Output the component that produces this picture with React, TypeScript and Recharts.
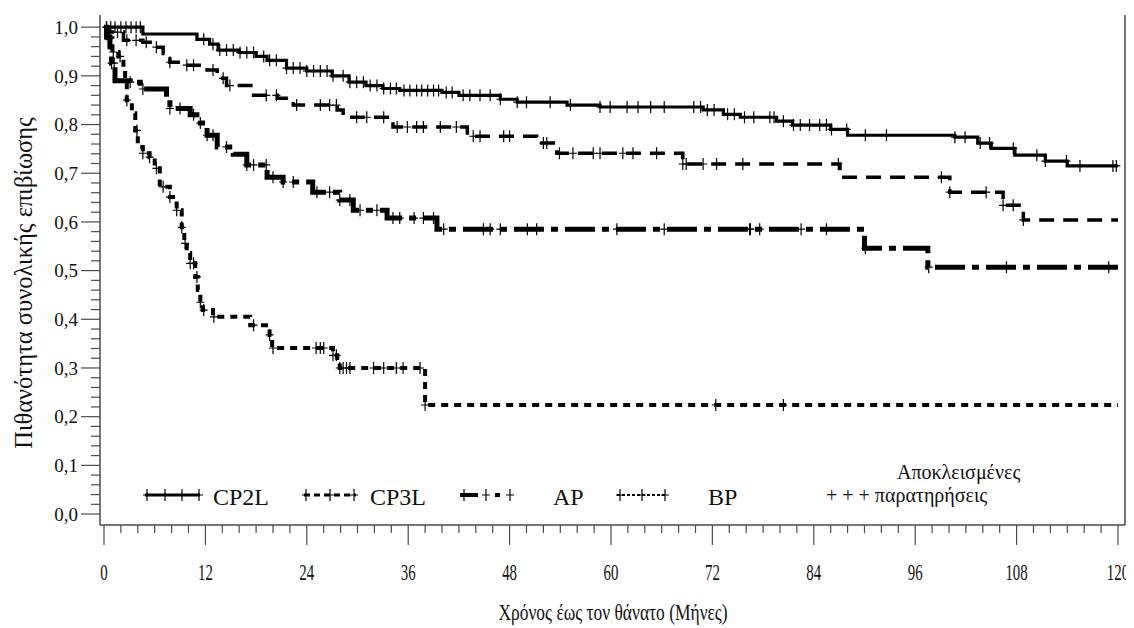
import React from 'react';
import { ComposedChart, Line, Scatter, XAxis, YAxis, ReferenceLine } from 'recharts';

// ---- data: step times (months) and survival values ----
const cp2lT = [0, 4.6, 11, 12.5, 13.5, 16, 18, 19.3, 21.6, 24, 27, 29, 31, 33, 35, 40, 42, 46.9, 48.9, 54.8, 58.7, 70.9, 73.3, 75.3, 79.6, 81.5, 86, 88, 100.7, 103.4, 105, 107.8, 111.4, 114, 120];
const cp2lS = [1, 0.986, 0.975, 0.965, 0.953, 0.948, 0.94, 0.932, 0.916, 0.91, 0.9, 0.887, 0.88, 0.874, 0.87, 0.866, 0.86, 0.852, 0.846, 0.84, 0.836, 0.83, 0.821, 0.815, 0.807, 0.799, 0.79, 0.778, 0.774, 0.762, 0.751, 0.737, 0.725, 0.715, 0.715];
const cp2lCens = [0.3, 0.8, 1.3, 2, 2.6, 3.2, 3.8, 4.3, 11.8, 12.9, 13.7, 14.5, 15.3, 16.1, 16.9, 17.7, 18.9, 19.6, 20.4, 21.6, 22.4, 23.2, 24, 24.8, 25.6, 26.4, 27.1, 28.3, 29.1, 29.9, 30.7, 31.5, 32.3, 33.1, 33.9, 34.6, 35.5, 36.2, 37, 37.6, 38.3, 39, 39.6, 40.5, 41.2, 42.5, 43.3, 44.5, 45.7, 46.9, 48.9, 50, 52.8, 55.2, 58.7, 59.9, 61.9, 63.2, 64.7, 66.3, 69.8, 70.6, 71.4, 72.2, 73.8, 74.6, 75.8, 76.9, 78.8, 79.3, 80.4, 81.6, 82.4, 83.5, 84.7, 85.5, 86.1, 87.9, 90.1, 92.6, 100.7, 101.9, 103.7, 104.8, 107.6, 110.4, 111.4, 113.9, 115.5, 119.4, 119.8];

const bpT = [0, 0.5, 2.3, 4.6, 5.8, 7, 7.8, 9, 12.2, 13.4, 14.5, 17.7, 20.5, 22.4, 27.6, 28.3, 34.2, 43, 51.2, 53.6, 68.5, 87.1, 100.1, 106.4, 108.8, 120];
const bpS = [1, 0.99, 0.973, 0.969, 0.959, 0.946, 0.928, 0.922, 0.912, 0.895, 0.88, 0.86, 0.854, 0.84, 0.83, 0.815, 0.795, 0.776, 0.762, 0.741, 0.719, 0.692, 0.661, 0.634, 0.604, 0.604];
const bpCens = [0.7, 1.6, 2.7, 3.8, 5, 6.2, 7.8, 9.8, 10.6, 12.9, 14.1, 14.9, 19.2, 20.4, 22.8, 25.6, 26.7, 27.5, 29.9, 31.1, 33.1, 34.7, 35.9, 37, 37.8, 39.8, 41.7, 43.7, 44.5, 47.3, 48, 52, 52.4, 53.9, 55.5, 57.9, 58.7, 61.4, 62.6, 65.4, 68.5, 68.9, 70.9, 72.5, 75.6, 86.9, 99.1, 100.1, 104.4, 106.4, 107.6, 108.8];

const apT = [0, 0.3, 0.7, 0.9, 1.3, 3.1, 4.3, 7.4, 7.8, 10.2, 11.4, 12.2, 13.4, 15.3, 16.9, 19.3, 21.2, 24.7, 27.9, 29.5, 33.5, 39.4, 90, 97.5, 120];
const apS = [1, 0.98, 0.96, 0.926, 0.89, 0.887, 0.873, 0.85, 0.833, 0.82, 0.803, 0.778, 0.754, 0.739, 0.717, 0.692, 0.682, 0.661, 0.645, 0.624, 0.608, 0.585, 0.546, 0.507, 0.507];
const apCens = [0.9, 1.2, 3.1, 4.6, 7.8, 9, 10.6, 11.4, 12.2, 12.9, 14.5, 16.9, 17.7, 19.2, 20, 21.2, 22.4, 25.2, 26.7, 27.9, 29.1, 30.3, 32.3, 34.2, 35, 36.7, 37.8, 39, 40.2, 44.9, 45.7, 46.9, 50.1, 51.2, 60.7, 66.3, 76.4, 76.5, 77.6, 82.5, 85.5, 90.1, 97.6, 106.8, 118.9];

const cp3lT = [0, 0.4, 1, 1.7, 2.3, 2.5, 2.7, 3.3, 3.7, 4, 4.6, 5.4, 6, 6.6, 7.8, 8.6, 9.2, 9.5, 9.8, 10.2, 10.8, 11.1, 11.4, 11.7, 12.9, 17.3, 19.6, 19.9, 27.1, 27.6, 27.9, 38, 120];
const cp3lS = [1, 0.977, 0.949, 0.94, 0.918, 0.885, 0.85, 0.823, 0.788, 0.754, 0.741, 0.733, 0.71, 0.672, 0.651, 0.624, 0.589, 0.556, 0.536, 0.515, 0.487, 0.46, 0.435, 0.419, 0.405, 0.388, 0.368, 0.341, 0.326, 0.31, 0.3, 0.224, 0.224];
const cp3lCens = [0.3, 1.1, 1.9, 2.7, 3.9, 4.6, 5.4, 6.2, 7, 7.8, 8.6, 9.2, 9.6, 10.2, 10.6, 11, 11.4, 11.8, 13, 17.7, 19.6, 20, 25.1, 25.6, 26, 27.1, 27.5, 27.9, 28.3, 28.7, 29.1, 31.9, 33.1, 34.6, 35.4, 37.4, 38, 72.4, 80.4];

const xTickLabels = [0, 12, 24, 36, 48, 60, 72, 84, 96, 108, 120];
const yTickLabels = [0, 0.1, 0.2, 0.3, 0.4, 0.5, 0.6, 0.7, 0.8, 0.9, 1.0];

// ---- tables built from the arrays ----
const toSteps = (T: number[], S: number[]) => T.map((t, i) => ({ t, s: S[i] }));
const stepAt = (T: number[], S: number[], t: number) => {
  let v = S[0];
  for (let i = 0; i < T.length; i++) if (T[i] <= t) v = S[i];
  return v;
};
const toCens = (C: number[], T: number[], S: number[]) => C.map((t) => ({ t, s: stepAt(T, S, t) }));

const cp2lData = toSteps(cp2lT, cp2lS);
const bpData = toSteps(bpT, bpS);
const apData = toSteps(apT, apS);
const cp3lData = toSteps(cp3lT, cp3lS);

const xTicks = Array.from({ length: 61 }, (_, i) => i * 2);
const yTicks = Array.from({ length: 51 }, (_, i) => i / 50);

const X_MIN = -0.473;
const X_MAX = 120.83;
const FONT = 'Liberation Serif';
const AXIS = '#4a4a4a';
const TXT = '#111';

const Plus = (props: any) => {
  const { cx, cy } = props;
  if (cx == null || cy == null) return null;
  return <path d={`M${cx - 4},${cy}h8M${cx},${cy - 6}v12`} stroke="#000" strokeWidth={1.2} fill="none" />;
};

const XTick = (props: any) => {
  const { x, y, payload } = props;
  const v = payload.value as number;
  const major = xTickLabels.includes(v);
  return (
    <g>
      <line x1={x} x2={x} y1={y} y2={y + (major ? 20 : 8)} stroke={AXIS} strokeWidth={1.2} />
      {major && (
        <g transform={`translate(${x},${y + 55}) scale(0.62,1)`}>
          <text x={0} y={0} textAnchor="middle" fontFamily={FONT} fontSize={24} fill={TXT}>{v}</text>
        </g>
      )}
    </g>
  );
};

const YTick = (props: any) => {
  const { x, y, payload } = props;
  const v = payload.value as number;
  const major = yTickLabels.some((l) => Math.abs(l - v) < 1e-6);
  return (
    <g>
      <line x1={x - (major ? 19 : 9)} x2={x} y1={y} y2={y} stroke={AXIS} strokeWidth={1.2} />
      {major && (
        <text x={x - 22} y={y} dy="0.35em" textAnchor="end" fontFamily={FONT} fontSize={19} fill={TXT}>
          {v.toFixed(1).replace('.', ',')}
        </text>
      )}
    </g>
  );
};

const Mark = ({ x, y }: { x: number; y: number }) => (
  <path d={`M${x - 4},${y}h8M${x},${y - 6}v12`} stroke="#000" strokeWidth={1.2} fill="none" />
);

export default function App() {
  const W = 1126;
  const H = 620;
  const ly = 487;
  return (
    <div style={{ position: 'relative', width: W, height: H }}>
      <ComposedChart width={W} height={H} margin={{ top: 7, right: 9, left: 0, bottom: 0 }}>
        <XAxis
          type="number"
          dataKey="t"
          domain={[X_MIN, X_MAX]}
          ticks={xTicks}
          interval={0}
          tick={<XTick />}
          tickLine={false}
          tickSize={0}
          tickMargin={0}
          height={103}
          axisLine={{ stroke: AXIS, strokeWidth: 1.5 }}
          allowDataOverflow
        />
        <YAxis
          type="number"
          domain={[-0.0225, 1.025]}
          ticks={yTicks}
          interval={0}
          tick={<YTick />}
          tickLine={false}
          tickSize={0}
          tickMargin={0}
          width={92}
          axisLine={{ stroke: AXIS, strokeWidth: 1.5 }}
          allowDataOverflow
        />
        <ReferenceLine x={X_MAX} stroke={AXIS} strokeWidth={1.5} ifOverflow="extendDomain" />
        <Line data={cp2lData} dataKey="s" type="stepAfter" stroke="#000" strokeWidth={3.2} dot={false} isAnimationActive={false} />
        <Line data={bpData} dataKey="s" type="stepAfter" stroke="#000" strokeWidth={3.5} strokeDasharray="15 9" dot={false} isAnimationActive={false} />
        <Line data={apData} dataKey="s" type="stepAfter" stroke="#000" strokeWidth={5} strokeDasharray="30 7 7 7" dot={false} isAnimationActive={false} />
        <Line data={cp3lData} dataKey="s" type="stepAfter" stroke="#000" strokeWidth={4} strokeDasharray="7 6" dot={false} isAnimationActive={false} />
        <Scatter data={toCens(cp2lCens, cp2lT, cp2lS)} dataKey="s" shape={<Plus />} isAnimationActive={false} />
        <Scatter data={toCens(bpCens, bpT, bpS)} dataKey="s" shape={<Plus />} isAnimationActive={false} />
        <Scatter data={toCens(apCens, apT, apS)} dataKey="s" shape={<Plus />} isAnimationActive={false} />
        <Scatter data={toCens(cp3lCens, cp3lT, cp3lS)} dataKey="s" shape={<Plus />} isAnimationActive={false} />
      </ComposedChart>
      <svg width={W} height={H} style={{ position: 'absolute', left: 0, top: 0, pointerEvents: 'none' }}>
        <text transform={`translate(24,275) rotate(-90)`} textAnchor="middle" fontFamily={FONT} fontSize={24.5} fill={TXT}>
          Πιθανότητα συνολικής επιβίωσης
        </text>
        <g transform="translate(605,612) scale(0.76,1)">
          <text x={0} y={0} textAnchor="middle" fontFamily={FONT} fontSize={23} fill={TXT}>Χρόνος έως τον θάνατο (Μήνες)</text>
        </g>
        {/* legend */}
        <line x1={137} x2={192} y1={ly} y2={ly} stroke="#000" strokeWidth={3} />
        <Mark x={139} y={ly} /><Mark x={157} y={ly} /><Mark x={174} y={ly} /><Mark x={191} y={ly} />
        <text x={205} y={497} fontFamily={FONT} fontSize={24} fill={TXT}>CP2L</text>
        <line x1={296} x2={348} y1={ly} y2={ly} stroke="#000" strokeWidth={3} strokeDasharray="6 4" />
        <Mark x={298} y={ly} /><Mark x={322} y={ly} /><Mark x={346} y={ly} />
        <text x={362} y={497} fontFamily={FONT} fontSize={24} fill={TXT}>CP3L</text>
        <line x1={452} x2={470} y1={ly} y2={ly} stroke="#000" strokeWidth={4} />
        <line x1={487} x2={492} y1={ly} y2={ly} stroke="#000" strokeWidth={4} />
        <Mark x={456} y={ly} /><Mark x={478} y={ly} /><Mark x={502} y={ly} />
        <text x={545} y={497} fontFamily={FONT} fontSize={24} fill={TXT}>AP</text>
        <line x1={609} x2={659} y1={ly} y2={ly} stroke="#000" strokeWidth={2} strokeDasharray="3 2" />
        <Mark x={612} y={ly} /><Mark x={634} y={ly} /><Mark x={657} y={ly} />
        <text x={700} y={497} fontFamily={FONT} fontSize={24} fill={TXT}>BP</text>
        <text x={889} y={471} fontFamily={FONT} fontSize={20} fill={TXT}>Αποκλεισμένες</text>
        <text x={818} y={494} fontFamily={FONT} fontSize={20} fill={TXT}>+ + + παρατηρήσεις</text>
      </svg>
    </div>
  );
}
